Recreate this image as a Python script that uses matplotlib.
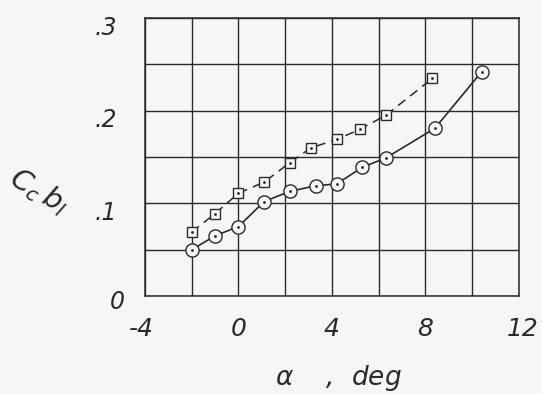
import matplotlib
matplotlib.use("Agg")
import matplotlib.pyplot as plt

# Section coefficient data, angle of attack in degrees
alpha_circle = [-2.0, -1.0, 0.0, 1.1, 2.2, 3.3, 4.2, 5.3, 6.3, 8.4, 10.4]
ccbl_circle = [0.050, 0.065, 0.075, 0.102, 0.113, 0.119, 0.121, 0.139, 0.149, 0.181, 0.242]

alpha_square = [-2.0, -1.0, 0.0, 1.1, 2.2, 3.1, 4.2, 5.2, 6.3, 8.3]
ccbl_square = [0.069, 0.089, 0.111, 0.123, 0.144, 0.160, 0.169, 0.180, 0.195, 0.235]

x_ticks = [-4, 0, 4, 8, 12]
x_tick_labels = ["-4", "0", "4", "8", "12"]
y_ticks = [0, 0.1, 0.2, 0.3]
y_tick_labels = ["0", ".1", ".2", ".3"]

ink = "#2a2a2a"
paper = "#f6f6f4"

fig = plt.figure(figsize=(5.42, 3.94), dpi=100, facecolor=paper)
ax = fig.add_axes([0.2675, 0.2487, 0.69, 0.7053])
ax.set_facecolor(paper)

ax.set_xlim(-4, 12)
ax.set_ylim(0, 0.3)

# Ruled grid: every 2 deg and every 0.05
ax.set_xticks(range(-4, 13, 2))
ax.set_yticks([i * 0.05 for i in range(7)])
ax.grid(True, color=ink, linewidth=1.0)
ax.set_axisbelow(True)
ax.tick_params(length=0, labelbottom=False, labelleft=False)
for s in ax.spines.values():
    s.set_color(ink)
    s.set_linewidth(1.1)

ax.plot(alpha_square, ccbl_square, color=ink, linestyle=(0, (6, 4)), linewidth=1.1,
        marker="s", markersize=7.5, markerfacecolor=paper, markeredgecolor=ink,
        markeredgewidth=1.0, zorder=3)
ax.plot(alpha_circle, ccbl_circle, color=ink, linestyle="-", linewidth=1.2,
        marker="o", markersize=9.5, markerfacecolor=paper, markeredgecolor=ink,
        markeredgewidth=1.0, zorder=3)
# centre dots of the symbols
ax.plot(alpha_square, ccbl_square, linestyle="none", marker=".", markersize=2,
        color=ink, zorder=4)
ax.plot(alpha_circle, ccbl_circle, linestyle="none", marker=".", markersize=2,
        color=ink, zorder=4)

font = dict(family="DejaVu Sans", style="italic", color=ink)

for v, lab in zip(x_ticks, x_tick_labels):
    dx = -3 if v == -4 else (3 if v == 12 else 0)
    ax.annotate(lab, xy=(v, 0), xycoords="data", xytext=(dx, -24),
                textcoords="offset points", ha="center", va="center",
                fontsize=18, **font)
for v, lab in zip(y_ticks, y_tick_labels):
    dx = -20 if v == 0 else -28
    dy = -4 if v == 0 else -7
    ax.annotate(lab, xy=(-4, v), xycoords="data", xytext=(dx, dy),
                textcoords="offset points", ha="center", va="center",
                fontsize=17, **font)

fig.text(0.625, 0.04, r"$\alpha$    ,  deg", ha="center", va="center",
         fontsize=19, **font)
fig.text(0.072, 0.515, r"$C_c\, b_l$", ha="center", va="center", rotation=-30,
         fontsize=21, **font)

fig.savefig("out.png", dpi=100, facecolor=paper)
